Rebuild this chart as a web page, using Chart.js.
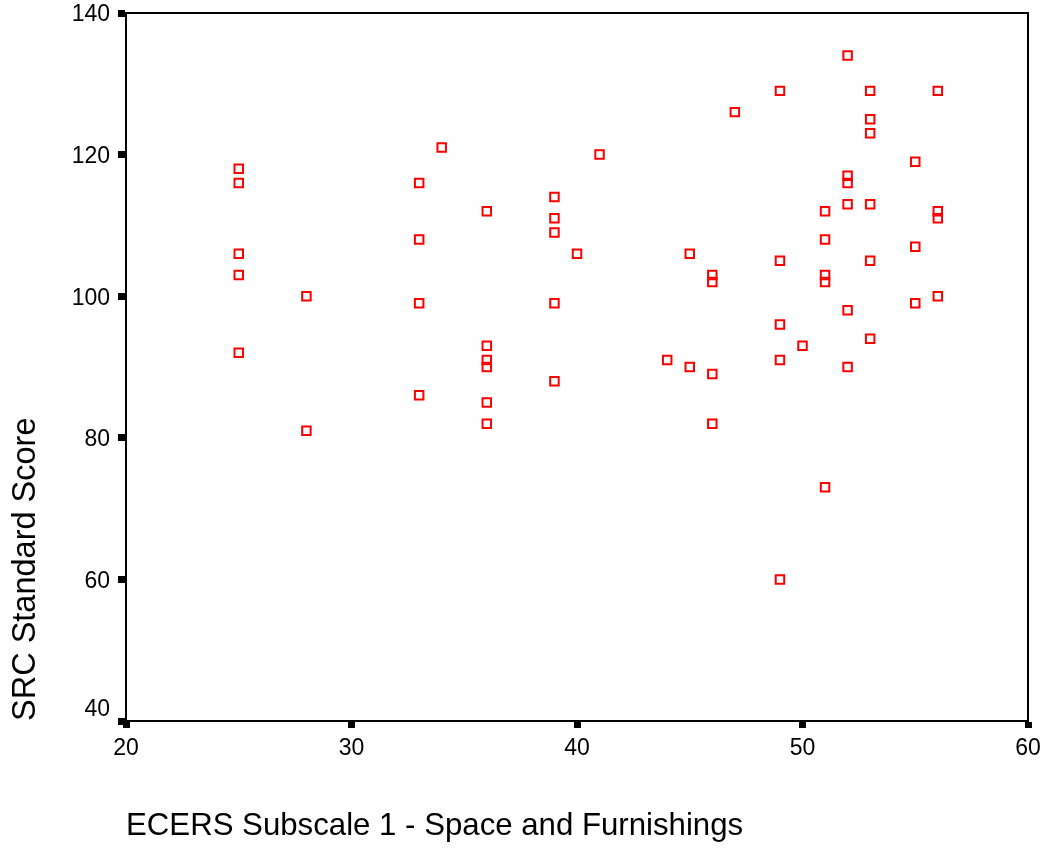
<!DOCTYPE html>
<html>
<head>
<meta charset="utf-8">
<script src="https://cdn.jsdelivr.net/npm/chart.js@4/dist/chart.umd.min.js"></script>
<style>
  html, body { margin: 0; padding: 0; background: #ffffff; }
  #wrap { width: 1048px; height: 852px; }
</style>
</head>
<body>
<div id="wrap"><canvas id="c" width="1048" height="852"></canvas></div>
<script>
// ---- data ----
const ecersX = [25,25,25,25,25, 28,28, 33,33,33,33, 34, 36,36,36,36,36,36, 39,39,39,39,39, 40, 41, 44, 45,45, 46,46,46,46, 47, 49,49,49,49,49, 50, 51,51,51,51,51, 52,52,52,52,52,52, 53,53,53,53,53,53, 55,55,55, 56,56,56,56];
const srcY   = [118,116,106,103,92, 100,81, 116,108,99,86, 121, 112,93,91,90,85,82, 114,111,109,99,88, 106, 120, 91, 106,90, 103,102,89,82, 126, 129,105,96,91,60, 93, 112,108,103,102,73, 134,117,116,113,98,90, 129,125,123,113,105,94, 119,107,99, 129,112,111,100];
const xTicks = [20, 30, 40, 50, 60];
const yTicks = [40, 60, 80, 100, 120, 140];
const xTitle = 'ECERS Subscale 1 - Space and Furnishings';
const yTitle = 'SRC Standard Score';

const points = ecersX.map((x, i) => ({ x: x, y: srcY[i] }));
const FONT = "'Liberation Sans', Arial, sans-serif";

const boxPlugin = {
  id: 'box',
  beforeDatasetsDraw(chart) {
    const { ctx, chartArea: a } = chart;
    ctx.save();
    ctx.strokeStyle = '#000';
    ctx.lineWidth = 2;
    ctx.beginPath();
    ctx.moveTo(a.left - 1, a.top);
    ctx.lineTo(a.right, a.top);
    ctx.lineTo(a.right, a.bottom + 1);
    ctx.stroke();
    ctx.restore();
  }
};

new Chart(document.getElementById('c'), {
  type: 'scatter',
  data: {
    datasets: [{
      data: points,
      pointStyle: 'rect',
      pointRadius: 6,
      pointHoverRadius: 6,
      borderWidth: 2,
      borderColor: '#ff0000',
      backgroundColor: 'rgba(0,0,0,0)'
    }]
  },
  options: {
    responsive: false,
    animation: false,
    devicePixelRatio: 1,
    events: [],
    layout: { padding: { top: 13, right: 20, bottom: 0, left: 0 } },
    plugins: { legend: { display: false }, tooltip: { enabled: false } },
    scales: {
      x: {
        type: 'linear',
        min: xTicks[0],
        max: xTicks[xTicks.length - 1],
        afterBuildTicks(scale) { scale.ticks = xTicks.map(v => ({ value: v })); },
        afterFit(scale) { scale.height = 131; scale.paddingLeft = 0; scale.paddingRight = 0; },
        border: { display: true, color: '#000', width: 2 },
        grid: { drawOnChartArea: false, drawTicks: true, tickLength: 7, tickWidth: 7, tickColor: '#000', color: '#000' },
        ticks: { color: '#000', padding: 7, font: { family: FONT, size: 23 }, maxRotation: 0 },
        title: { display: true, text: xTitle, align: 'start', color: '#000', font: { family: FONT, size: 31.2 }, padding: { top: 0, bottom: 7 } }
      },
      y: {
        type: 'linear',
        min: yTicks[0],
        max: yTicks[yTicks.length - 1],
        afterBuildTicks(scale) { scale.ticks = yTicks.map(v => ({ value: v })); },
        afterFit(scale) { scale.width = 126; scale.paddingTop = 0; scale.paddingBottom = 0; },
        border: { display: true, color: '#000', width: 2 },
        grid: { drawOnChartArea: false, drawTicks: true, tickLength: 8, tickWidth: 7, tickColor: '#000', color: '#000' },
        ticks: {
          color: '#000', padding: 8, labelOffset: 2, font: { family: FONT, size: 23 },
          callback: (v) => (v === yTicks[0] ? [String(v), ''] : String(v))
        },
        title: { display: true, text: yTitle, align: 'start', color: '#000', font: { family: FONT, size: 32.5 }, padding: { top: 7, bottom: 0 } }
      }
    }
  },
  plugins: [boxPlugin]
});
</script>
</body>
</html>
